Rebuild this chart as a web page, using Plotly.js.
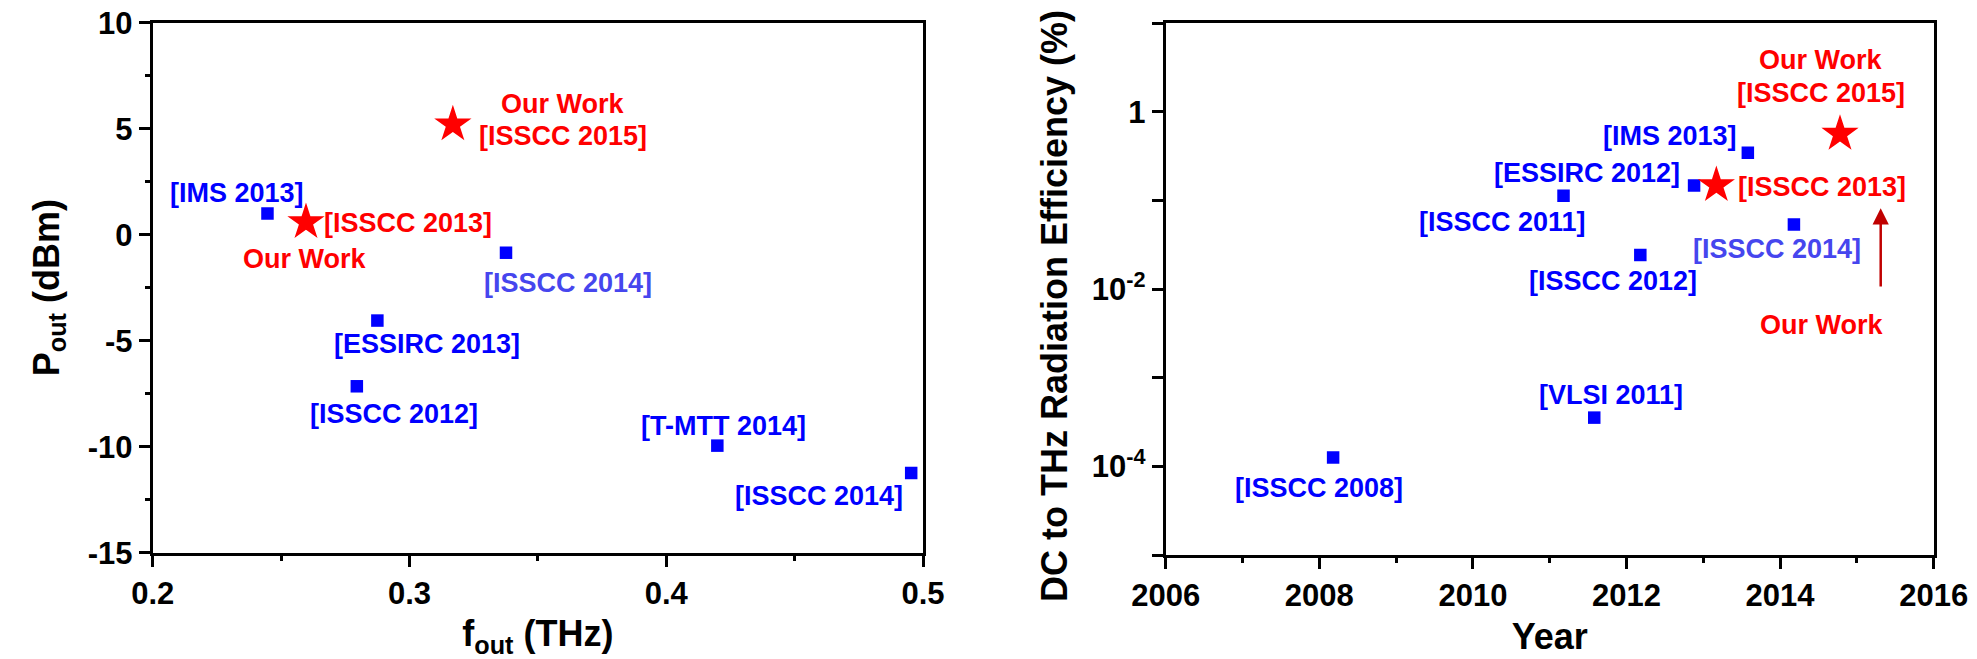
<!DOCTYPE html>
<html>
<head>
<meta charset="utf-8">
<script src="https://cdn.plot.ly/plotly-3.0.1.min.js"></script>
<style>html,body{margin:0;padding:0;background:#fff;}#chart{width:1977px;height:659px;}</style>
</head>
<body>
<div id="chart"></div>
<script>
// ---------- Left panel: Pout vs fout ----------
const refFreq = [0.2447, 0.2875, 0.2795, 0.3376, 0.4199, 0.4954];
const refPout = [1.0, -4.05, -7.15, -0.85, -9.95, -11.24];
const refNamesLeft = ['[IMS 2013]', '[ESSIRC 2013]', '[ISSCC 2012]', '[ISSCC 2014]', '[T-MTT 2014]', '[ISSCC 2014]'];
const ourFreq = [0.2597, 0.3169];
const ourPout = [0.59, 5.2];
const ourNamesLeft = ['[ISSCC 2013]', '[ISSCC 2015]'];

// ---------- Right panel: efficiency vs year ----------
const refYear = [2008.18, 2011.18, 2011.58, 2012.18, 2012.88, 2013.58, 2014.18];
const refEff = [1.26e-4, 0.1135, 3.55e-4, 0.0243, 0.1476, 0.346, 0.0535];
const refNamesRight = ['[ISSCC 2008]', '[ISSCC 2011]', '[VLSI 2011]', '[ISSCC 2012]', '[ESSIRC 2012]', '[IMS 2013]', '[ISSCC 2014]'];
const ourYear = [2013.17, 2014.78];
const ourEff = [0.149, 0.565];
const ourNamesRight = ['[ISSCC 2013]', '[ISSCC 2015]'];

// tick labels
const leftXTicks = [0.2, 0.3, 0.4, 0.5];
const leftXTickText = ['0.2', '0.3', '0.4', '0.5'];
const leftYTicks = [-15, -10, -5, 0, 5, 10];
const leftYTickText = ['-15', '-10', '-5', '0', '5', '10'];
const rightXTicks = [2006, 2008, 2010, 2012, 2014, 2016];
const rightYTickVals = [1e-5, 1e-4, 1e-3, 1e-2, 1e-1, 1, 10];
const rightYTickText = [' ', '10<sup>-4</sup>', ' ', '10<sup>-2</sup>', ' ', '1', ' '];

// ---------- styles ----------
const BLUE = '#0000ff', LBLUE = '#4646ee', RED = '#ff0000', DARKRED = '#c00000';
const FONT = 'Liberation Sans, Arial, sans-serif';
const W = 1977, H = 659;

const traces = [
  {x: refFreq, y: refPout, text: refNamesLeft, type: 'scatter', mode: 'markers', xaxis: 'x', yaxis: 'y',
   marker: {symbol: 'square', size: 12.5, color: BLUE, line: {width: 0}}, hoverinfo: 'x+y+text'},
  {x: ourFreq, y: ourPout, text: ourNamesLeft, type: 'scatter', mode: 'markers', xaxis: 'x', yaxis: 'y',
   marker: {symbol: 'star', size: 28, color: RED, line: {width: 0}}, hoverinfo: 'x+y+text'},
  {x: refYear, y: refEff, text: refNamesRight, type: 'scatter', mode: 'markers', xaxis: 'x2', yaxis: 'y2',
   marker: {symbol: 'square', size: 12.5, color: BLUE, line: {width: 0}}, hoverinfo: 'x+y+text'},
  {x: ourYear, y: ourEff, text: ourNamesRight, type: 'scatter', mode: 'markers', xaxis: 'x2', yaxis: 'y2',
   marker: {symbol: 'star', size: 28, color: RED, line: {width: 0}}, hoverinfo: 'x+y+text'}
];

// label placement (layout only)
const leftLabels = [
  ['[IMS 2013]', 0.2330, 1.98, BLUE],
  ['[ISSCC 2013]', 0.2995, 0.53, RED],
  ['Our Work', 0.2591, -1.15, RED],
  ['Our Work', 0.3597, 6.18, RED],
  ['[ISSCC 2015]', 0.3597, 4.65, RED],
  ['[ISSCC 2014]', 0.3617, -2.28, LBLUE],
  ['[ESSIRC 2013]', 0.3070, -5.17, BLUE],
  ['[ISSCC 2012]', 0.2939, -8.44, BLUE],
  ['[T-MTT 2014]', 0.4222, -9.00, BLUE],
  ['[ISSCC 2014]', 0.4595, -12.33, BLUE]
];
const rightLabels = [
  ['Our Work', 2014.53, 0.587, RED],
  ['[ISSCC 2015]', 2014.53, 0.217, RED],
  ['[IMS 2013]', 2012.56, -0.267, BLUE],
  ['[ESSIRC 2012]', 2011.49, -0.684, BLUE],
  ['[ISSCC 2013]', 2014.55, -0.85, RED],
  ['[ISSCC 2011]', 2010.38, -1.245, BLUE],
  ['[ISSCC 2014]', 2013.96, -1.547, LBLUE],
  ['[ISSCC 2012]', 2011.82, -1.903, BLUE],
  ['Our Work', 2014.54, -2.406, RED],
  ['[VLSI 2011]', 2011.80, -3.189, BLUE],
  ['[ISSCC 2008]', 2008.00, -4.242, BLUE]
];

const annFont = (c) => ({family: FONT, size: 27, color: c, weight: 'bold'});
const annotations = [];
leftLabels.forEach(([t, x, y, c]) => annotations.push({text: t, x: x, y: y, xref: 'x', yref: 'y', showarrow: false, font: annFont(c), xanchor: 'center', yanchor: 'middle'}));
rightLabels.forEach(([t, x, y, c]) => annotations.push({text: t, x: x, y: y, xref: 'x2', yref: 'y2', showarrow: false, font: annFont(c), xanchor: 'center', yanchor: 'middle'}));
// arrow pointing at "Our Work" in right panel
annotations.push({x: 2015.31, y: -1.087, ax: 2015.31, ay: -2.083, xref: 'x2', yref: 'y2', axref: 'x2', ayref: 'y2',
  text: ' ', showarrow: true, arrowhead: 2, arrowsize: 1.3, arrowwidth: 2.5, arrowcolor: DARKRED, standoff: 0});

const tickFont = {family: FONT, size: 31, color: '#000', weight: 'bold'};
const titleFont = {family: FONT, size: 36, color: '#000', weight: 'bold'};

// right y-axis title (placed as annotation so it sits slightly below the axis centre, like the reference)
annotations.push({text: 'DC to THz Radiation Efficiency (%)', xref: 'paper', yref: 'paper', x: 1054 / W, y: (H - 306) / H,
  xanchor: 'center', yanchor: 'middle', textangle: -90, showarrow: false, font: titleFont});

const axisCommon = {showgrid: false, zeroline: false, showline: true, linecolor: '#000', linewidth: 3, mirror: true,
  ticks: 'outside', ticklen: 11, tickwidth: 3, tickcolor: '#000', tickfont: tickFont};

const layout = {
  width: W, height: H,
  margin: {l: 0, r: 0, t: 0, b: 0},
  paper_bgcolor: '#fff', plot_bgcolor: '#fff',
  showlegend: false,
  xaxis: Object.assign({}, axisCommon, {
    domain: [152.7 / W, 923 / W], range: [0.2, 0.5], tickvals: leftXTicks, ticktext: leftXTickText,
    minor: {dtick: 0.05, tick0: 0.2, ticks: 'outside', ticklen: 5, tickwidth: 3, tickcolor: '#000', showgrid: false},
    title: {text: 'f<sub>out</sub> (THz)', font: titleFont, standoff: 12}, anchor: 'y'
  }),
  yaxis: Object.assign({}, axisCommon, {
    domain: [(H - 552.7) / H, (H - 22.7) / H], range: [-15, 10], tickvals: leftYTicks, ticktext: leftYTickText,
    minor: {dtick: 2.5, tick0: 0, ticks: 'outside', ticklen: 5, tickwidth: 3, tickcolor: '#000', showgrid: false},
    title: {text: 'P<sub>out</sub> (dBm)', font: titleFont, standoff: 18}, anchor: 'x'
  }),
  xaxis2: Object.assign({}, axisCommon, {
    domain: [1165.7 / W, 1933.7 / W], range: [2006, 2016], tickvals: rightXTicks,
    minor: {dtick: 1, tick0: 2006, ticks: 'outside', ticklen: 5, tickwidth: 3, tickcolor: '#000', showgrid: false},
    title: {text: 'Year', font: titleFont, standoff: 12}, anchor: 'y2'
  }),
  yaxis2: Object.assign({}, axisCommon, {
    domain: [(H - 555) / H, (H - 23.3) / H], type: 'log', range: [-5, 1], tickvals: rightYTickVals, ticktext: rightYTickText,
    anchor: 'x2'
  }),
  annotations: annotations
};

Plotly.newPlot('chart', traces, layout, {displayModeBar: false, responsive: false});
</script>
</body>
</html>
